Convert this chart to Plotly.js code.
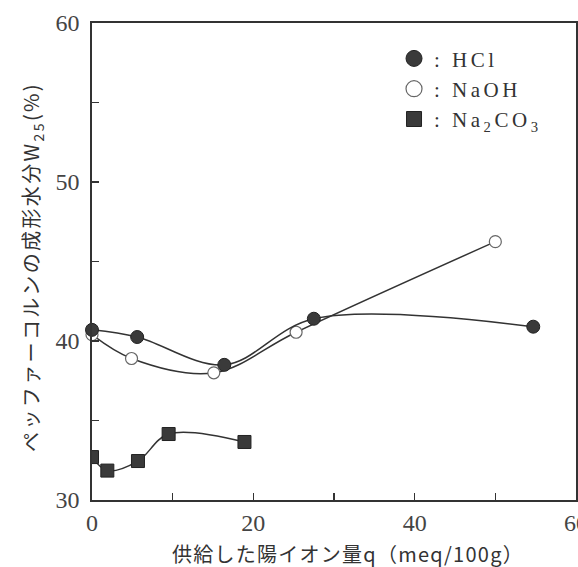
<!DOCTYPE html>
<html>
<head>
<meta charset="utf-8">
<script src="https://cdn.plot.ly/plotly-3.0.1.min.js"></script>
<style>
html,body{margin:0;padding:0;background:#fff;}
#chart{width:578px;height:567px;}
#chart .legendtext{letter-spacing:3.5px;}
#chart g.legend g.scrollbox{clip-path:none !important;}
</style>
</head>
<body>
<div id="chart"></div>
<script>
// Data
const hclX = [0, 5.6, 16.4, 27.5, 54.7];
const hclY = [40.7, 40.25, 38.5, 41.4, 40.9];
const naohX = [0, 4.9, 15.1, 25.3, 50.0];
const naohY = [40.4, 38.9, 38.0, 40.55, 46.25];
const na2co3X = [0, 1.9, 5.7, 9.5, 18.9];
const na2co3Y = [32.7, 31.85, 32.45, 34.15, 33.65];

const xTickVals = [0, 20, 40, 60];
const xTickText = ['0', '20', '40', '60'];
const xMinorVals = [10, 30, 50];
const yTickVals = [30, 40, 50, 60];
const yTickText = ['30', '40', '50', '60'];
const yMinorVals = [35, 45, 55];

const legendNames = [': HCl', ': NaOH', ': Na<sub>2</sub>CO<sub>3</sub>'];
const xTitle = '供給した陽イオン量q（meq/100g）';
const yTitle = 'ペッファーコルンの成形水分W<sub>25</sub>(%)';

const ink = '#333333';
const serif = 'Liberation Serif, Times New Roman, serif';
const jp = 'Noto Sans CJK JP, sans-serif';

const lineStyle = {color: ink, width: 1.5, shape: 'spline'};

const traces = [
  {x: na2co3X, y: na2co3Y, mode: 'lines+markers', line: lineStyle, cliponaxis: true,
   marker: {symbol: 'square', size: 13, color: '#3a3a3a', line: {color: '#222', width: 1}}, showlegend: false},
  {x: naohX, y: naohY, mode: 'lines+markers', line: lineStyle, cliponaxis: false,
   marker: {symbol: 'circle', size: 12, color: '#ffffff', line: {color: '#666', width: 1.2}}, showlegend: false},
  {x: hclX, y: hclY, mode: 'lines+markers', line: lineStyle, cliponaxis: false,
   marker: {symbol: 'circle', size: 13, color: '#3a3a3a', line: {color: '#222', width: 1}}, showlegend: false},
  // legend-only entries (markers without line)
  {x: [null], y: [null], mode: 'markers', name: legendNames[0],
   marker: {symbol: 'circle', size: 16, color: '#3a3a3a', line: {color: '#222', width: 1}}},
  {x: [null], y: [null], mode: 'markers', name: legendNames[1],
   marker: {symbol: 'circle', size: 16, color: '#ffffff', line: {color: '#666', width: 1.2}}},
  {x: [null], y: [null], mode: 'markers', name: legendNames[2],
   marker: {symbol: 'square', size: 15, color: '#3a3a3a', line: {color: '#222', width: 1}}}
];

const minorStyle = {ticks: 'inside', ticklen: 7, tickwidth: 1.2, tickcolor: ink, showgrid: false};

const layout = {
  width: 578, height: 567,
  margin: {l: 92, r: 2, t: 23, b: 67},
  paper_bgcolor: '#ffffff', plot_bgcolor: '#ffffff',
  showlegend: true,
  legend: {x: 0.624, y: 0.968, xanchor: 'left', yanchor: 'top', bgcolor: 'rgba(0,0,0,0)',
           font: {family: serif, size: 21, color: ink}, itemsizing: 'trace', tracegroupgap: 0},
  xaxis: {
    range: [0, 60], tickmode: 'array', tickvals: xTickVals, ticktext: xTickText,
    minor: Object.assign({tickmode: 'array', tickvals: xMinorVals}, minorStyle),
    ticks: 'inside', ticklen: 7, tickwidth: 1.2, tickcolor: ink,
    showline: true, linecolor: ink, linewidth: 1.8, mirror: true,
    showgrid: false, zeroline: false, ticklabeloverflow: 'allow',
    tickfont: {family: serif, size: 24, color: '#444'}
  },
  yaxis: {
    range: [30, 60], tickmode: 'array', tickvals: yTickVals, ticktext: yTickText,
    minor: Object.assign({tickmode: 'array', tickvals: yMinorVals}, minorStyle),
    ticks: 'inside', ticklen: 7, tickwidth: 1.2, tickcolor: ink,
    showline: true, linecolor: ink, linewidth: 1.8, mirror: true,
    showgrid: false, zeroline: false, ticklabelstandoff: 6, ticklabeloverflow: 'allow',
    tickfont: {family: serif, size: 24, color: '#444'}
  },
  annotations: [
    {text: xTitle, xref: 'paper', yref: 'paper', x: 0.543, y: -0.111, xanchor: 'center', yanchor: 'middle',
     showarrow: false, font: {family: jp, size: 20, color: ink}},
    {text: yTitle, xref: 'paper', yref: 'paper', x: -0.124, y: 0.488, xanchor: 'center', yanchor: 'middle',
     textangle: -90, showarrow: false, font: {family: jp, size: 20, color: ink}}
  ]
};

// stretch a title's letter spacing to a target length, then centre it on a target point
function fitTitle(el, targetLen, cx, cy, vertical) {
  let lo = 0, hi = 15;
  for (let i = 0; i < 22; i++) {
    const mid = (lo + hi) / 2;
    el.style.letterSpacing = mid + 'px';
    const r = el.getBoundingClientRect();
    const len = vertical ? r.height : r.width;
    if (len < targetLen) lo = mid; else hi = mid;
  }
  el.style.letterSpacing = lo + 'px';
  const host = document.getElementById('chart').getBoundingClientRect();
  const r = el.getBoundingClientRect();
  const dx = cx - (r.left - host.left + r.width / 2);
  const dy = cy - (r.top - host.top + r.height / 2);
  const g = el.closest('g.annotation') || el.parentNode;
  const t = g.getAttribute('transform') || '';
  g.setAttribute('transform', 'translate(' + dx + ',' + dy + ') ' + t);
}

Plotly.newPlot('chart', traces, layout, {displayModeBar: false, staticPlot: true}).then(function () {
  const texts = document.querySelectorAll('#chart .annotation-text');
  if (texts[0]) fitTitle(texts[0], 352, 348, 553, false);
  if (texts[1]) fitTitle(texts[1], 370, 32, 267, true);
});
</script>
</body>
</html>
